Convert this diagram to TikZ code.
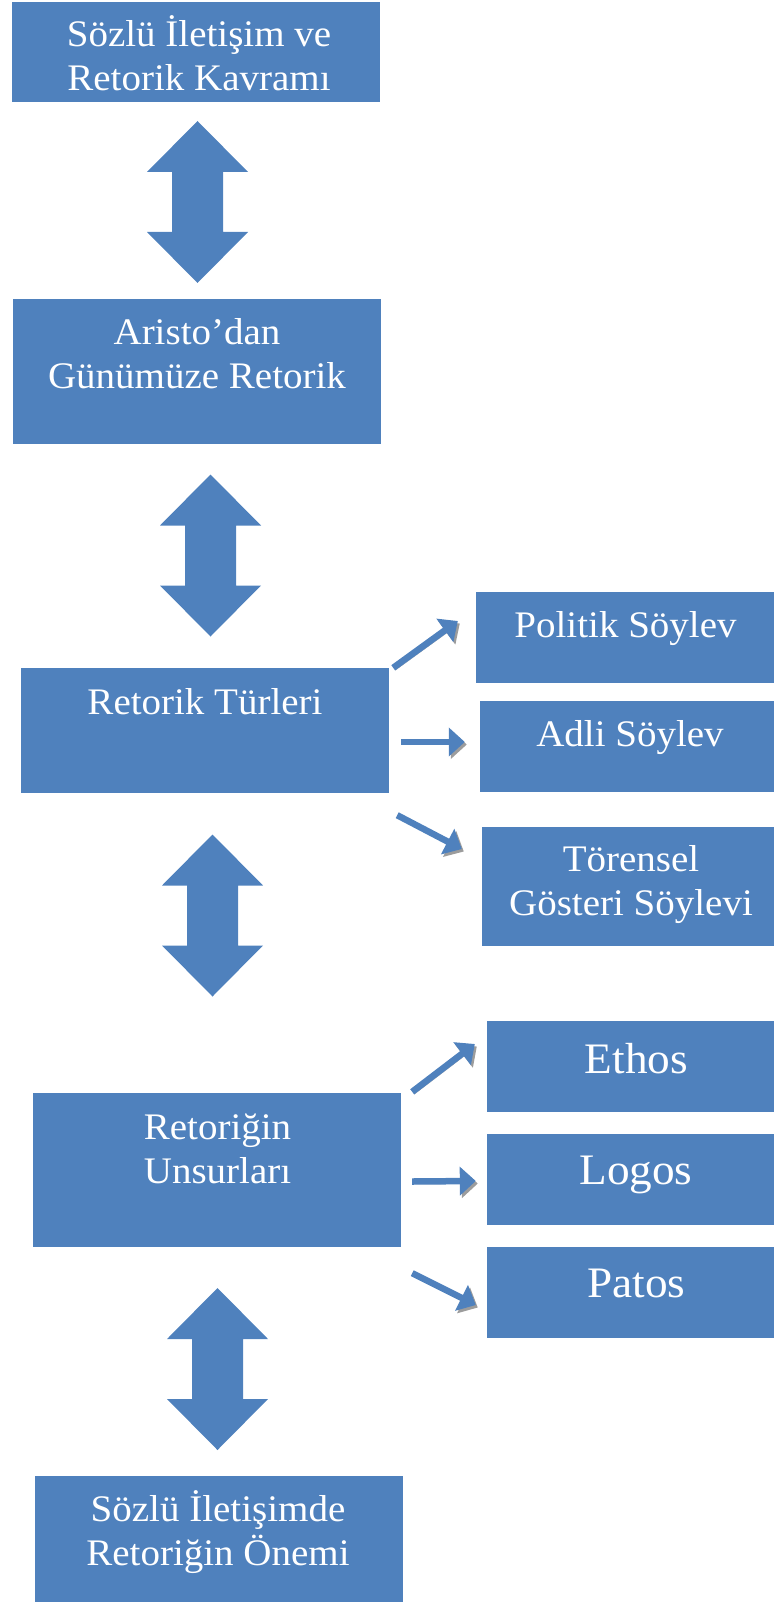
\documentclass[tikz,border=0pt]{standalone}
\usepackage{fontspec}
\setmainfont{Liberation Serif}[FakeStretch=1.04]
\usetikzlibrary{calc, arrows.meta, positioning}
\definecolor{kutumavi}{HTML}{4F81BD}
\definecolor{golge}{HTML}{9C9C9C}

\begin{document}
\begin{tikzpicture}[x=1pt, y=-1pt,
  kutu/.style = {fill=kutumavi, draw=none, inner sep=0pt, minimum width=368pt},
  yan/.style = {fill=kutumavi, draw=none, inner sep=0pt, minimum height=91pt},
  yazi/.style = {text=white, align=center, inner sep=0pt, anchor=base,
    font=\fontsize{37.5}{44}\selectfont},
  buyuk/.style = {yazi, font=\fontsize{43.5}{50}\selectfont},
  ok/.style = {line width=6.5pt, draw=kutumavi, -{Triangle[length=16pt,width=28pt]},
    preaction={draw=golge, transform canvas={shift={(2pt,-2.5pt)}}}},
  cift/.pic = {\fill[kutumavi] (0,-81) -- (50.5,-30) -- (25.5,-30) -- (25.5,30)
    -- (50.5,30) -- (0,81) -- (-50.5,30) -- (-25.5,30) -- (-25.5,-30)
    -- (-50.5,-30) -- cycle;}]
\useasboundingbox (0,0) rectangle (774,1602);

% main column
\node[kutu, minimum height=100pt] (K1) at (196,52) {};
\node[kutu, minimum height=145pt] (K2) at (197,371.5) {};
\node[kutu, minimum height=125pt] (K3) at (205,730.5) {};
\node[kutu, minimum height=154pt] (K4) at (217,1170) {};
\node[kutu, minimum height=126pt] (K5) at (219,1539) {};

% base = baseline of the last line
\node[yazi] (T1) at (199,91) {Sözlü İletişim ve\\Retorik Kavramı};
\node[yazi] (T2) at (197,388) {Aristo’dan\\Günümüze Retorik};
\node[yazi] (T3) at (205,714) {Retorik Türleri};
\node[yazi] (T4) at (217.5,1183) {Retoriğin\\Unsurları};
\node[yazi] (T5) at (218,1565) {Sözlü İletişimde\\Retoriğin Önemi};

% double arrows between the boxes
\pic at ($(K1.south)!0.5!(K2.north)+(1,1.5)$) {cift};
\pic at ($(K2.south)!0.5!(K3.north)+(9.5,-0.5)$) {cift};
\pic at ($(K3.south)!0.5!(K4.north)+(1.5,-27.5)$) {cift};
\pic at ($(K4.south)!0.5!(K5.north)+(-0.5,7.5)$) {cift};

% kinds of rhetoric
\node[yan, minimum width=298pt] (P1) at (625,637.5) {};
\node[yan, minimum width=294pt] (P2) at (627,746.5) {};
\node[yan, minimum width=292pt, minimum height=119pt] (P3) at (628,886.5) {};
\node[yazi] at (625.5,637) {Politik Söylev};
\node[yazi] at (630,746) {Adli Söylev};
\node[yazi] at (631,915) {Törensel\\Gösteri Söylevi};

\draw[ok] ([xshift=4pt]K3.north east) -- ([shift={(-18pt,16.5pt)}]P1.west);
\draw[ok] ([shift={(12pt,-11.5pt)}]K3.east) -- ([shift={(-15pt,4.5pt)}]P2.west);
\draw[ok] ([shift={(8pt,-22pt)}]K3.south east) -- ([shift={(-20pt,37.5pt)}]P3.west);

% elements of rhetoric
\node[yan, minimum width=287pt] (E) at (630.5,1066.5) {};
\node[yan, minimum width=287pt] (L) at (630.5,1179.5) {};
\node[yan, minimum width=287pt] (Pa) at (630.5,1292.5) {};
\node[buyuk] at (636.5,1073) {Ethos};
\node[buyuk] at (636,1184) {Logos};
\node[buyuk] at (636.5,1297) {Patos};

\draw[ok] ([shift={(11pt,1pt)}]K4.north east) -- ([shift={(-12pt,22.5pt)}]E.west);
\draw[ok] ([shift={(11pt,-11.5pt)}]K4.east) -- ([shift={(-11pt,-1.5pt)}]L.west);
\draw[ok] ([shift={(11pt,-26pt)}]K4.south east) -- ([shift={(-11pt,-12.5pt)}]Pa.west);
\end{tikzpicture}
\end{document}
